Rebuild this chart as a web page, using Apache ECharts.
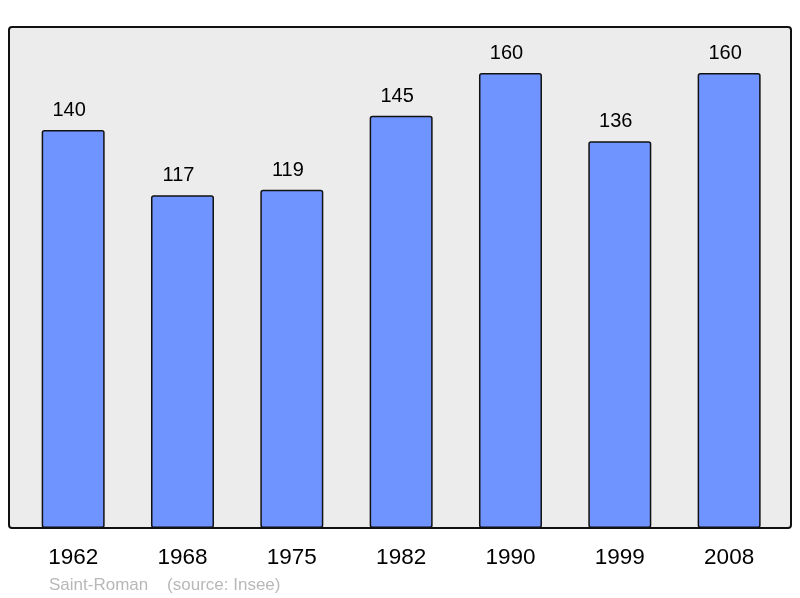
<!DOCTYPE html>
<html><head><meta charset="utf-8">
<script src="https://cdn.jsdelivr.net/npm/echarts@6/dist/echarts.min.js"></script>
<style>html,body{margin:0;padding:0;background:#fff}#c{width:800px;height:598px}</style>
</head><body><div id="c"></div>
<script>
const categories = ['1962','1968','1975','1982','1990','1999','2008'];
const population = [140,117,119,145,160,136,160];
const footerText = 'Saint-Roman    (source: Insee)';

const chart = echarts.init(document.getElementById('c'), null, {renderer:'canvas'});
chart.setOption({
  animation:false,
  backgroundColor:'#ffffff',
  grid:{left:18.5, right:16.2, top:27, bottom:70},
  xAxis:{type:'category', data:categories,
    axisLine:{show:false}, axisTick:{show:false},
    axisLabel:{color:'#000', fontFamily:'Liberation Sans, Arial, sans-serif', fontSize:22.5, margin:18}},
  yAxis:{type:'value', min:0, max:176.2, show:false, splitLine:{show:false}},
  graphic:[
    {type:'rect', z:-10, shape:{x:9,y:27,width:782,height:501,r:3}, style:{fill:'#ececec', stroke:null}},
    {type:'rect', z:100, shape:{x:9,y:27,width:782,height:501,r:3}, style:{fill:null, stroke:'#111', lineWidth:2}},
    {type:'text', left:49, top:577, style:{text:footerText, fill:'#b8b8b8', font:'17px "Liberation Sans", Arial, sans-serif'}}
  ],
  series:[{type:'bar', data:population, barWidth:63,
    itemStyle:{color:'#7094ff', borderColor:'#111', borderWidth:1.5, borderRadius:2},
    label:{show:true, position:'top', distance:9.5, offset:[-4,0], color:'#000',
      fontFamily:'Liberation Sans, Arial, sans-serif', fontSize:20}
  }]
});
</script></body></html>
